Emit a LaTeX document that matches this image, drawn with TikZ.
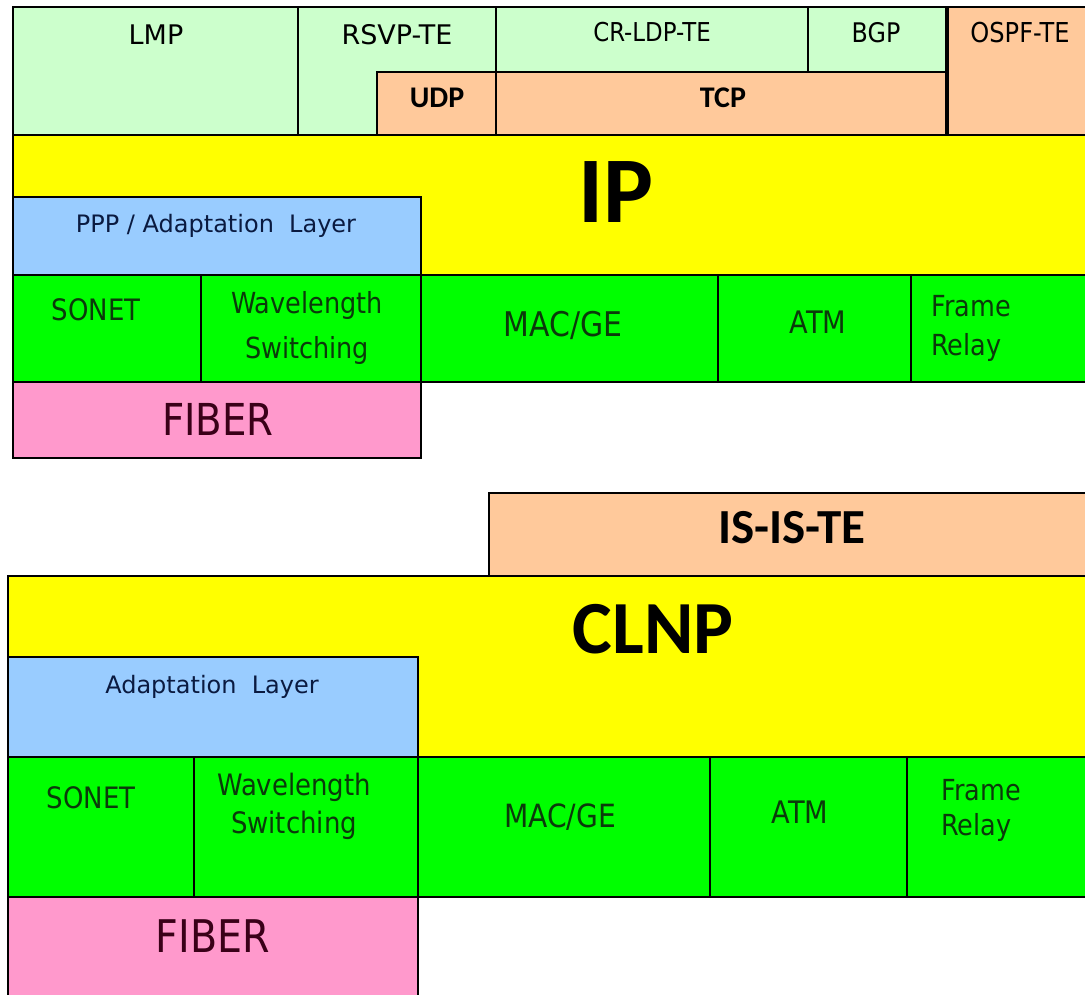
\documentclass[tikz,border=0pt]{standalone}
\usepackage{fontspec}
\setmainfont{DejaVu Sans}
\newfontfamily\cond{DejaVu Sans}[FakeStretch=0.88]
\newfontfamily\carb{Carlito}
\definecolor{lgreen}{HTML}{CCFFCC}
\definecolor{peach}{HTML}{FFC99B}
\definecolor{ylw}{HTML}{FFFF00}
\definecolor{lblue}{HTML}{99CCFF}
\definecolor{grn}{HTML}{00FF00}
\definecolor{pnk}{HTML}{FF99CC}
\definecolor{txtg}{HTML}{0B3A0B}
\definecolor{txtb}{HTML}{0A1A40}
\definecolor{txtp}{HTML}{3A0018}
\begin{document}
\begin{tikzpicture}[x=1pt,y=-1pt,
  blk/.style={draw=black, line width=1.6pt},
  lbl/.style={inner sep=0pt, anchor=base},
  two/.style={inner sep=0pt, anchor=north, align=center},
  twol/.style={inner sep=0pt, anchor=north west, align=left},
  fs/.style={font=\fontsize{#1}{#1}\selectfont},
  cf/.style={font=\cond\fontsize{#1}{#1}\selectfont},
  bf/.style={font=\carb\bfseries\fontsize{#1}{#1}\selectfont}]
\useasboundingbox (0,0) rectangle (1085,995);
\fill[white] (0,0) rectangle (1085,995);
\clip (0,0) rectangle (1085,995);
% ---------- top stack ----------
\filldraw[blk, fill=lgreen] (13,7) rectangle (298,135);
\filldraw[blk, fill=lgreen] (298,7) rectangle (496,135);
\filldraw[blk, fill=lgreen] (496,7) rectangle (808,72);
\filldraw[blk, fill=lgreen] (808,7) rectangle (947,72);
\filldraw[blk, fill=peach] (377,72) rectangle (496,135);
\filldraw[blk, fill=peach] (496,72) rectangle (947,135);
\filldraw[blk, fill=peach] (947,7) rectangle (1095,135);
\draw[line width=3.4pt] (947,7) -- (947,135);
\filldraw[blk, fill=ylw] (13,135) rectangle (1095,275);
\filldraw[blk, fill=lblue] (13,197) rectangle (421,275);
\filldraw[blk, fill=grn] (13,275) rectangle (201,382);
\filldraw[blk, fill=grn] (201,275) rectangle (421,382);
\filldraw[blk, fill=grn] (421,275) rectangle (718,382);
\filldraw[blk, fill=grn] (718,275) rectangle (911,382);
\filldraw[blk, fill=grn] (911,275) rectangle (1095,382);
\filldraw[blk, fill=pnk] (13,382) rectangle (421,458);
\node[lbl, fs=27] (lmp) at (156,45) {LMP};
\node[lbl, fs=27] (rsvp) at (397,45) {RSVP-TE};
\node[lbl, cf=26] (crldp) at (652,42) {CR-LDP-TE};
\node[lbl, cf=27] (bgp) at (876,43) {BGP};
\node[lbl, cf=27.4] (ospf) at (1020,43) {OSPF-TE};
\node[lbl, bf=30] (udp) at (437,108) {UDP};
\node[lbl, bf=30] (tcp) at (723,108) {TCP};
\node[lbl, bf=94] (ip) at (616,223) {IP};
\node[lbl, fs=24, text=txtb] (ppp) at (216,233) {PPP / Adaptation\ \ Layer};
\node[lbl, cf=29.5, text=txtg] (sonet1) at (96,320) {SONET};
\node[two, font=\cond\fontsize{29}{45}\selectfont, text=txtg] (wave1) at (307,291) {Wavelength\\Switching};
\node[lbl, cf=34, text=txtg] (mac1) at (563,337) {MAC/GE};
\node[lbl, cf=31, text=txtg] (atm1) at (818,334) {ATM};
\node[twol, font=\cond\fontsize{29}{39}\selectfont, text=txtg] (fr1) at (931,295) {Frame\\Relay};
\node[lbl, cf=44, text=txtp] (fib1) at (218,435) {FIBER};
% ---------- bottom stack ----------
\filldraw[blk, fill=peach] (489,493) rectangle (1095,576);
\filldraw[blk, fill=ylw] (8,576) rectangle (1095,757);
\filldraw[blk, fill=lblue] (8,657) rectangle (418,757);
\filldraw[blk, fill=grn] (8,757) rectangle (194,897);
\filldraw[blk, fill=grn] (194,757) rectangle (418,897);
\filldraw[blk, fill=grn] (418,757) rectangle (710,897);
\filldraw[blk, fill=grn] (710,757) rectangle (907,897);
\filldraw[blk, fill=grn] (907,757) rectangle (1095,897);
\filldraw[blk, fill=pnk] (8,897) rectangle (418,1005);
\node[lbl, bf=49] (isis) at (792,543) {IS-IS-TE};
\node[lbl, bf=75] (clnp) at (653,653) {CLNP};
\node[lbl, fs=24, text=txtb] (adapt) at (212,693) {Adaptation\ \ Layer};
\node[lbl, cf=29.5, text=txtg] (sonet2) at (91,808) {SONET};
\node[two, font=\cond\fontsize{29.5}{38}\selectfont, text=txtg] (wave2) at (294,773) {Wavelength\\Switching};
\node[lbl, cf=32, text=txtg] (mac2) at (560,827) {MAC/GE};
\node[lbl, cf=31, text=txtg] (atm2) at (800,823) {ATM};
\node[twol, font=\cond\fontsize{29}{35}\selectfont, text=txtg] (fr2) at (941,779) {Frame\\Relay};
\node[lbl, cf=45, text=txtp] (fib2) at (213,952) {FIBER};
\end{tikzpicture}
\end{document}
